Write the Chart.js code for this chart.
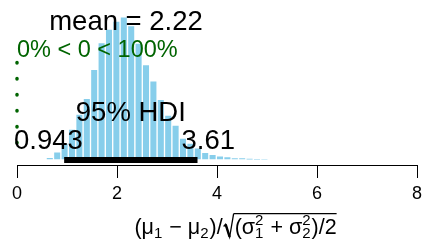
<!DOCTYPE html>
<html>
<head>
<meta charset="utf-8">
<script src="https://cdn.jsdelivr.net/npm/chart.js@4"></script>
<style>
  html, body { margin: 0; padding: 0; background: #fff; }
  #wrap { width: 434px; height: 243px; }
</style>
</head>
<body>
<div id="wrap"><canvas id="post" width="434" height="243"></canvas></div>
<script>
// posterior histogram of the effect size (bin centres and densities)
const binCenters = [0.656, 0.804, 0.952, 1.100, 1.248, 1.396, 1.544, 1.692, 1.840, 1.988,
                    2.136, 2.284, 2.432, 2.580, 2.728, 2.876, 3.024, 3.172, 3.320, 3.468,
                    3.616, 3.764, 3.912, 4.060, 4.208, 4.356, 4.504, 4.652, 4.800, 4.948];
const densities = [0.013, 0.039, 0.080, 0.146, 0.217, 0.291, 0.428, 0.554, 0.618, 0.656,
                   0.675, 0.634, 0.552, 0.450, 0.373, 0.286, 0.212, 0.165, 0.104, 0.080,
                   0.057, 0.036, 0.027, 0.020, 0.016, 0.011, 0.011, 0.008, 0.005, 0.002];
const postMean = 2.22;
const hdiLimits = [0.943, 3.61];
const compValue = 0;
const compLineY = [0.46, 0.07];      // dotted comparison line, top to bottom
const pctBelow = '0%', pctAbove = '100%';
const xTicks = [0, 2, 4, 6, 8];

const FONT = '"Liberation Sans", Arial, Helvetica, sans-serif';

// x axis label: (mu1 - mu2) / sqrt((sigma1^2 + sigma2^2) / 2)
const xlabPieces = [
  { t: '(' }, { t: 'μ' }, { sub: '1' }, { t: ' − ' }, { t: 'μ' }, { sub: '2' }, { t: ')' }, { t: '/' },
  { rad: true },
  { t: '(' }, { t: 'σ' }, { sup: '2', sub: '1' }, { t: ' + ' }, { t: 'σ' }, { sup: '2', sub: '2' },
  { t: ')' }, { t: '/' }, { t: '2' },
  { radEnd: true }
];

function drawXlab(ctx, cx, baseline) {
  const mainPx = 21.5, scrPx = 15;
  const mFont = mainPx + 'px ' + FONT, sFont = scrPx + 'px ' + FONT;
  const widthOf = p => {
    if (p.t) { ctx.font = mFont; return ctx.measureText(p.t).width; }
    if (p.sub || p.sup) {
      ctx.font = sFont;
      return Math.max(ctx.measureText(p.sub || '').width, ctx.measureText(p.sup || '').width) + 1;
    }
    if (p.rad) return 12;
    return 1;
  };
  const total = xlabPieces.reduce((s, p) => s + widthOf(p), 0);
  let x = cx - total / 2;
  let radStart = null;
  ctx.save();
  ctx.fillStyle = '#000';
  ctx.strokeStyle = '#000';
  ctx.textBaseline = 'alphabetic';
  ctx.textAlign = 'left';
  const top = baseline - mainPx * 0.95;
  xlabPieces.forEach(p => {
    const w = widthOf(p);
    if (p.t) {
      ctx.font = mFont;
      ctx.fillText(p.t, x, baseline);
    } else if (p.sub || p.sup) {
      ctx.font = sFont;
      if (p.sup) ctx.fillText(p.sup, x, baseline - mainPx * 0.4);
      if (p.sub) ctx.fillText(p.sub, x, baseline + mainPx * 0.2);
    } else if (p.rad) {
      // radical sign drawn as strokes
      ctx.lineWidth = 1.3;
      ctx.beginPath();
      ctx.moveTo(x + 1, baseline - mainPx * 0.35);
      ctx.lineTo(x + 3, baseline - mainPx * 0.45);
      ctx.lineTo(x + 7, baseline + 3);
      ctx.lineTo(x + 11, top);
      ctx.stroke();
      ctx.lineWidth = 2.4;
      ctx.beginPath();
      ctx.moveTo(x + 3, baseline - mainPx * 0.45);
      ctx.lineTo(x + 7, baseline + 3);
      ctx.stroke();
      radStart = x + 11;
    } else if (p.radEnd) {
      ctx.lineWidth = 1.3;
      ctx.beginPath();
      ctx.moveTo(radStart, top);
      ctx.lineTo(x, top);
      ctx.stroke();
    }
    x += w;
  });
  ctx.restore();
}

const annotate = {
  id: 'annotate',
  afterDatasetsDraw(chart) {
    const { ctx } = chart;
    const xs = chart.scales.x;
    ctx.save();
    ctx.textBaseline = 'alphabetic';
    ctx.fillStyle = '#000';
    ctx.font = '27.5px ' + FONT;

    // mean label
    ctx.textAlign = 'center';
    ctx.fillText('mean = ' + postMean.toFixed(2), xs.getPixelForValue(postMean) - 2, 30);

    // comparison value percentages
    ctx.fillStyle = '#006400';
    ctx.font = '23.5px ' + FONT;
    ctx.textAlign = 'left';
    ctx.fillText(pctBelow + ' < ' + compValue + ' < ' + pctAbove, xs.getPixelForValue(compValue), 57);

    // HDI labels
    ctx.fillStyle = '#000';
    ctx.font = '27.5px ' + FONT;
    ctx.textAlign = 'center';
    ctx.fillText('95% HDI', xs.getPixelForValue((hdiLimits[0] + hdiLimits[1]) / 2), 121);
    ctx.textAlign = 'left';
    const lo = String(hdiLimits[0]), hi = String(hdiLimits[1]);
    const wLo = ctx.measureText(lo).width, wHi = ctx.measureText(hi).width;
    ctx.fillText(lo, xs.getPixelForValue(hdiLimits[0]) - 0.7 * wLo - 2, 149);
    ctx.fillText(hi, xs.getPixelForValue(hdiLimits[1]) - 0.3 * wHi, 149);
    ctx.restore();

    drawXlab(ctx, 236, 234);
  }
};

new Chart(document.getElementById('post'), {
  type: 'bar',
  data: {
    datasets: [
      {
        type: 'line',
        data: hdiLimits.map(v => ({ x: v, y: 0 })),
        borderColor: '#000',
        borderWidth: 6,
        borderCapStyle: 'butt',
        pointRadius: 0,
        clip: false,
        order: 0
      },
      {
        type: 'line',
        data: compLineY.map(v => ({ x: compValue, y: v })),
        borderColor: '#006400',
        borderWidth: 3.5,
        borderDash: [0.5, 15.5],
        borderCapStyle: 'round',
        pointRadius: 0,
        clip: false,
        order: 1
      },
      {
        type: 'bar',
        data: binCenters.map((c, i) => ({ x: c, y: densities[i] })),
        backgroundColor: '#87CEEB',
        borderColor: '#fff',
        borderWidth: 1,
        borderSkipped: false,
        barPercentage: 1,
        categoryPercentage: 1,
        order: 2
      }
    ]
  },
  options: {
    responsive: false,
    animation: false,
    devicePixelRatio: 1,
    layout: { padding: { left: 17, right: 17, top: 0, bottom: 0 } },
    plugins: { legend: { display: false }, tooltip: { enabled: false } },
    scales: {
      x: {
        type: 'linear',
        min: 0,
        max: 8,
        offset: false,
        afterBuildTicks: s => { s.ticks = xTicks.map(v => ({ value: v })); },
        afterFit: s => { s.height = 78; },
        ticks: {
          color: '#000',
          padding: 5,
          maxRotation: 0,
          font: { family: FONT, size: 18 }
        },
        grid: {
          offset: false,
          drawOnChartArea: false,
          drawTicks: true,
          tickLength: 13,
          tickColor: '#000',
          tickWidth: 1
        },
        border: { display: true, color: '#000', width: 1 }
      },
      y: {
        display: false,
        min: -0.0236,
        max: 0.755
      }
    }
  },
  plugins: [annotate]
});
</script>
</body>
</html>
